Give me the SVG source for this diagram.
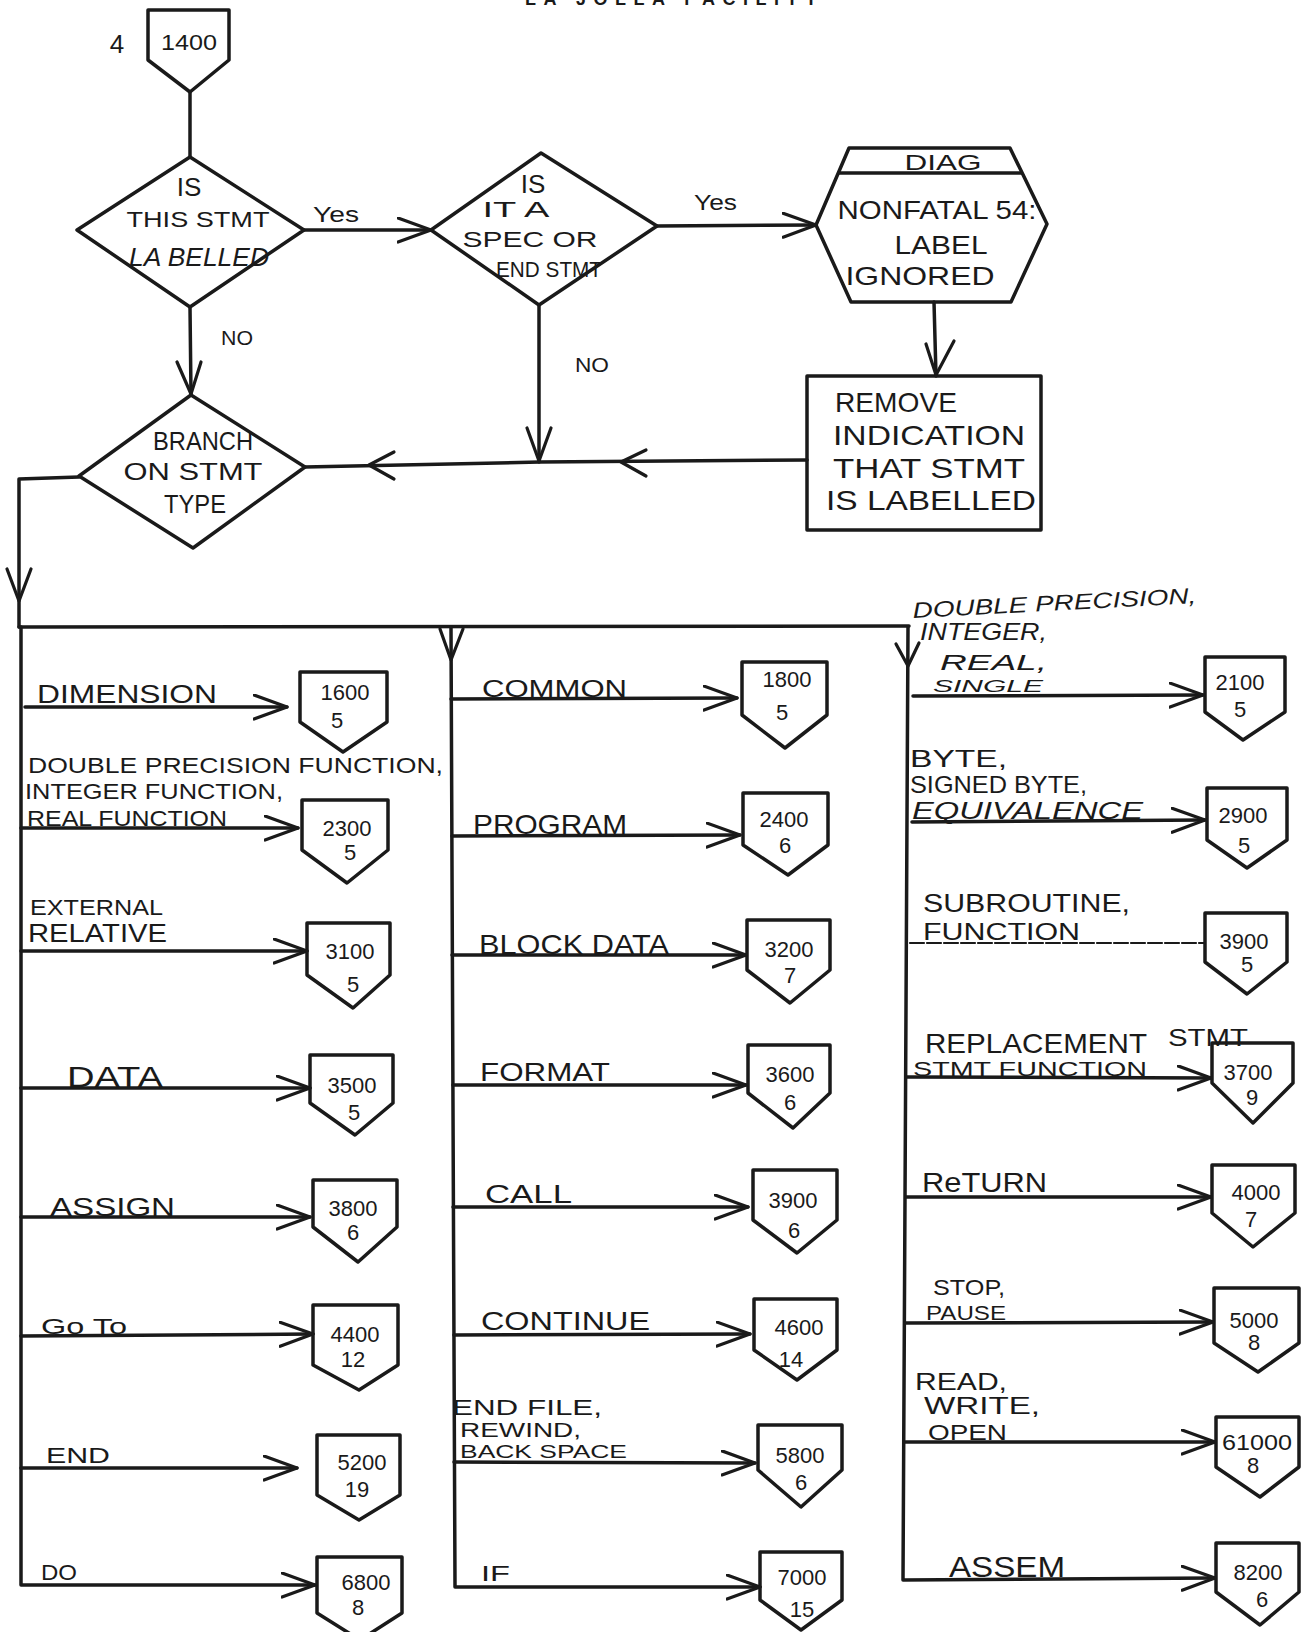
<svg xmlns="http://www.w3.org/2000/svg" width="1301" height="1632" viewBox="0 0 1301 1632">
<style>
  .bg{fill:#ffffff}
  .shape{fill:none;stroke:#1a1a1a;stroke-width:3.5;stroke-linejoin:round}
  .ln{fill:none;stroke:#1a1a1a;stroke-width:3.5;stroke-linecap:round;stroke-linejoin:round}
  .thin{fill:none;stroke:#1a1a1a;stroke-width:2.2;stroke-linecap:round}
  .ah{fill:none;stroke:#1a1a1a;stroke-width:3.2;stroke-linecap:round;stroke-linejoin:round}
  text{font-family:"Liberation Sans","DejaVu Sans",sans-serif;fill:#1a1a1a}
  .num{font-size:22px;text-anchor:middle}
  .cnt{font-size:22px;text-anchor:middle}
  .mid{text-anchor:middle}
  .it{font-style:italic}
</style>
<defs>
  <marker id="arr" markerUnits="userSpaceOnUse" markerWidth="40" markerHeight="30" refX="34" refY="13" orient="auto">
    <path d="M1,1 L34,13 L1,25" fill="none" stroke="#1a1a1a" stroke-width="3.2" stroke-linecap="round" stroke-linejoin="round"/>
  </marker>
</defs>
<rect class="bg" x="0" y="0" width="1301" height="1632"/>

<text x="525" y="5" font-size="18" font-weight="bold" textLength="292">LA JOLLA FACILITY</text>

<g id="connectors">
  <path class="ln" d="M190,92 L190,157"/>
  <path class="ln" d="M304,230 L431,230" marker-end="url(#arr)"/>
  <path class="ln" d="M657,226 L816,225" marker-end="url(#arr)"/>
  <path class="ln" d="M934,302 L936,376"/>
  <path class="ah" d="M926,344 L936,375 L954,341"/>
  <path class="ln" d="M190,307 L191,395"/>
  <path class="ah" d="M177,362 L191,394 L201,362"/>
  <path class="ln" d="M539,305 L539,462"/>
  <path class="ah" d="M527,428 L539,461 L551,428"/>
  <path class="ln" d="M807,460 L540,462 L305,467"/>
  <path class="ah" d="M646,450 L621,462 L646,476"/>
  <path class="ah" d="M394,452 L369,465 L394,479"/>
  <path class="ln" d="M79,477 L19,479 L19,627"/>
  <path class="ah" d="M7,569 L19,601 L31,569"/>
  <path class="ln" d="M19,627 L909,626"/>
  <path class="ln" d="M21,627 L21,1585 L315,1585" marker-end="url(#arr)"/>
  <path class="ln" d="M451,627 L455,1587 L760,1587" marker-end="url(#arr)"/>
  <path class="ln" d="M908,627 L903,1580 L1215,1578" marker-end="url(#arr)"/>
  <path class="ah" d="M440,629 L451,660 L463,629"/>
  <path class="ah" d="M896,644 L908,666 L919,643"/>
  <path class="ln" d="M25,707 L287,707" marker-end="url(#arr)"/>
  <path class="ln" d="M21,828 L298,828" marker-end="url(#arr)"/>
  <path class="ln" d="M21,951 L307,951" marker-end="url(#arr)"/>
  <path class="ln" d="M21,1088 L310,1088" marker-end="url(#arr)"/>
  <path class="ln" d="M21,1217 L310,1217" marker-end="url(#arr)"/>
  <path class="ln" d="M21,1336 L313,1334" marker-end="url(#arr)"/>
  <path class="ln" d="M21,1468 L297,1468" marker-end="url(#arr)"/>
  <path class="ln" d="M451,699 L737,698" marker-end="url(#arr)"/>
  <path class="ln" d="M452,836 L740,835" marker-end="url(#arr)"/>
  <path class="ln" d="M452,955 L746,955" marker-end="url(#arr)"/>
  <path class="ln" d="M453,1085 L746,1085" marker-end="url(#arr)"/>
  <path class="ln" d="M453,1207 L748,1207" marker-end="url(#arr)"/>
  <path class="ln" d="M454,1335 L750,1334" marker-end="url(#arr)"/>
  <path class="ln" d="M454,1462 L755,1463" marker-end="url(#arr)"/>
  <path class="ln" d="M913,696 L1203,695" marker-end="url(#arr)"/>
  <path class="ln" d="M912,822 L1205,820" marker-end="url(#arr)"/>
  <path class="thin" d="M910,943 L1205,943" stroke-dasharray="14 3"/>
  <path class="ln" d="M907,1077 L1211,1078" marker-end="url(#arr)"/>
  <path class="ln" d="M906,1197 L1211,1197" marker-end="url(#arr)"/>
  <path class="ln" d="M905,1323 L1213,1322" marker-end="url(#arr)"/>
  <path class="ln" d="M904,1442 L1215,1442" marker-end="url(#arr)"/>
</g>

<g id="labels">
  <text x="313" y="222" font-size="22" textLength="46" lengthAdjust="spacingAndGlyphs">Yes</text>
  <text x="694" y="210" font-size="22" textLength="43" lengthAdjust="spacingAndGlyphs">Yes</text>
  <text x="221" y="345" font-size="20" textLength="32" lengthAdjust="spacingAndGlyphs">NO</text>
  <text x="575" y="372" font-size="20" textLength="34" lengthAdjust="spacingAndGlyphs">NO</text>

  <text x="37" y="703" font-size="26" textLength="180" lengthAdjust="spacingAndGlyphs">DIMENSION</text>
  <text x="28" y="773" font-size="22" textLength="415" lengthAdjust="spacingAndGlyphs">DOUBLE PRECISION FUNCTION,</text>
  <text x="25" y="799" font-size="22" textLength="258" lengthAdjust="spacingAndGlyphs">INTEGER FUNCTION,</text>
  <text x="27" y="826" font-size="22" textLength="200" lengthAdjust="spacingAndGlyphs">REAL FUNCTION</text>
  <text x="30" y="915" font-size="22" textLength="133" lengthAdjust="spacingAndGlyphs">EXTERNAL</text>
  <text x="28" y="942" font-size="26" textLength="139" lengthAdjust="spacingAndGlyphs">RELATIVE</text>
  <text x="67" y="1087" font-size="30" textLength="96" lengthAdjust="spacingAndGlyphs">DATA</text>
  <text x="50" y="1216" font-size="26" textLength="125" lengthAdjust="spacingAndGlyphs">ASSIGN</text>
  <text x="41" y="1334" font-size="22" textLength="86" lengthAdjust="spacingAndGlyphs">Go To</text>
  <text x="46" y="1463" font-size="22" textLength="64" lengthAdjust="spacingAndGlyphs">END</text>
  <text x="41" y="1580" font-size="22" textLength="36" lengthAdjust="spacingAndGlyphs">DO</text>

  <text x="482" y="697" font-size="24" textLength="145" lengthAdjust="spacingAndGlyphs">COMMON</text>
  <text x="473" y="834" font-size="28" textLength="154" lengthAdjust="spacingAndGlyphs">PROGRAM</text>
  <text x="479" y="954" font-size="28" textLength="190" lengthAdjust="spacingAndGlyphs">BLOCK DATA</text>
  <text x="480" y="1081" font-size="26" textLength="130" lengthAdjust="spacingAndGlyphs">FORMAT</text>
  <text x="485" y="1203" font-size="26" textLength="87" lengthAdjust="spacingAndGlyphs">CALL</text>
  <text x="481" y="1330" font-size="26" textLength="169" lengthAdjust="spacingAndGlyphs">CONTINUE</text>
  <text x="452" y="1415" font-size="22" textLength="150" lengthAdjust="spacingAndGlyphs">END FILE,</text>
  <text x="460" y="1437" font-size="21" textLength="121" lengthAdjust="spacingAndGlyphs">REWIND,</text>
  <text x="460" y="1458" font-size="19" textLength="167" lengthAdjust="spacingAndGlyphs">BACK SPACE</text>
  <text x="481" y="1581" font-size="22" textLength="29" lengthAdjust="spacingAndGlyphs">IF</text>

  <text x="913" y="618" font-size="22" class="it" textLength="284" lengthAdjust="spacingAndGlyphs" transform="rotate(-3 913 618)">DOUBLE PRECISION,</text>
  <text x="920" y="640" font-size="24" class="it" textLength="127" lengthAdjust="spacingAndGlyphs">INTEGER,</text>
  <text x="940" y="670" font-size="22" class="it" textLength="107" lengthAdjust="spacingAndGlyphs">REAL,</text>
  <text x="933" y="692" font-size="17" class="it" textLength="110" lengthAdjust="spacingAndGlyphs">SINGLE</text>
  <text x="910" y="767" font-size="24" textLength="97" lengthAdjust="spacingAndGlyphs">BYTE,</text>
  <text x="910" y="793" font-size="24" textLength="177" lengthAdjust="spacingAndGlyphs">SIGNED BYTE,</text>
  <text x="912" y="819" font-size="24" class="it" textLength="231" lengthAdjust="spacingAndGlyphs">EQUIVALENCE</text>
  <text x="923" y="912" font-size="26" textLength="207" lengthAdjust="spacingAndGlyphs">SUBROUTINE,</text>
  <text x="923" y="940" font-size="24" textLength="157" lengthAdjust="spacingAndGlyphs">FUNCTION</text>
  <text x="925" y="1053" font-size="28" textLength="222" lengthAdjust="spacingAndGlyphs">REPLACEMENT</text>
  <text x="1168" y="1046" font-size="24" textLength="80" lengthAdjust="spacingAndGlyphs">STMT</text>
  <text x="913" y="1076" font-size="21" textLength="234" lengthAdjust="spacingAndGlyphs">STMT  FUNCTION</text>
  <text x="922" y="1192" font-size="28" textLength="125" lengthAdjust="spacingAndGlyphs">ReTURN</text>
  <text x="933" y="1295" font-size="22" textLength="72" lengthAdjust="spacingAndGlyphs">STOP,</text>
  <text x="926" y="1320" font-size="21" textLength="80" lengthAdjust="spacingAndGlyphs">PAUSE</text>
  <text x="915" y="1390" font-size="24" textLength="92" lengthAdjust="spacingAndGlyphs">READ,</text>
  <text x="924" y="1414" font-size="24" textLength="116" lengthAdjust="spacingAndGlyphs">WRITE,</text>
  <text x="928" y="1440" font-size="22" textLength="79" lengthAdjust="spacingAndGlyphs">OPEN</text>
  <text x="949" y="1577" font-size="30" textLength="116" lengthAdjust="spacingAndGlyphs">ASSEM</text>
</g>

<g id="nodes">
  <g id="n1400">
    <polygon class="shape" points="148,10 229,10 229,60 190,92 148,60"/>
    <text x="189" y="50" font-size="22" class="mid" textLength="56" lengthAdjust="spacingAndGlyphs">1400</text>
    <text x="117" y="53" font-size="26" class="mid">4</text>
  </g>
  <g id="d_labelled">
    <polygon class="shape" points="190,157 304,230 190,307 77,230"/>
    <text x="189" y="196" font-size="26" class="mid">IS</text>
    <text x="198" y="227" font-size="22" class="mid" textLength="143" lengthAdjust="spacingAndGlyphs">THIS STMT</text>
    <text x="199" y="266" font-size="26" class="mid it" textLength="140" lengthAdjust="spacingAndGlyphs">LA BELLED</text>
  </g>
  <g id="d_spec">
    <polygon class="shape" points="541,153 657,226 539,305 431,230"/>
    <text x="533" y="193" font-size="26" class="mid">IS</text>
    <text x="516" y="217" font-size="22" class="mid" textLength="67" lengthAdjust="spacingAndGlyphs">IT  A</text>
    <text x="530" y="247" font-size="22" class="mid" textLength="135" lengthAdjust="spacingAndGlyphs">SPEC OR</text>
    <text x="549" y="277" font-size="22" class="mid" textLength="106" lengthAdjust="spacingAndGlyphs">END STMT</text>
  </g>
  <g id="diag">
    <polygon class="shape" points="849,148 1010,148 1047,224 1011,302 851,302 816,225"/>
    <path class="shape" d="M838,173 L1022,173"/>
    <text x="943" y="170" font-size="22" class="mid" textLength="77" lengthAdjust="spacingAndGlyphs">DIAG</text>
    <text x="937" y="219" font-size="26" class="mid" textLength="199" lengthAdjust="spacingAndGlyphs">NONFATAL 54:</text>
    <text x="941" y="254" font-size="26" class="mid" textLength="93" lengthAdjust="spacingAndGlyphs">LABEL</text>
    <text x="920" y="285" font-size="26" class="mid" textLength="149" lengthAdjust="spacingAndGlyphs">IGNORED</text>
  </g>
  <g id="remove">
    <rect class="shape" x="807" y="376" width="234" height="154"/>
    <text x="835" y="412" font-size="28" textLength="122" lengthAdjust="spacingAndGlyphs">REMOVE</text>
    <text x="833" y="445" font-size="28" textLength="192" lengthAdjust="spacingAndGlyphs">INDICATION</text>
    <text x="833" y="478" font-size="28" textLength="192" lengthAdjust="spacingAndGlyphs">THAT STMT</text>
    <text x="826" y="510" font-size="28" textLength="210" lengthAdjust="spacingAndGlyphs">IS LABELLED</text>
  </g>
  <g id="d_branch">
    <polygon class="shape" points="191,395 305,467 193,548 79,476"/>
    <text x="203" y="450" font-size="26" class="mid" textLength="100" lengthAdjust="spacingAndGlyphs">BRANCH</text>
    <text x="193" y="480" font-size="24" class="mid" textLength="139" lengthAdjust="spacingAndGlyphs">ON STMT</text>
    <text x="195" y="513" font-size="26" class="mid" textLength="62" lengthAdjust="spacingAndGlyphs">TYPE</text>
  </g>

  <g id="n1600"><polygon class="shape" points="300,672 387,672 387,722 343,752 300,722"/><text class="num" x="345" y="700">1600</text><text class="cnt" x="337" y="728">5</text></g>
  <g id="n2300"><polygon class="shape" points="302,800 388,800 388,850 347,883 302,850"/><text class="num" x="347" y="836">2300</text><text class="cnt" x="350" y="860">5</text></g>
  <g id="n3100"><polygon class="shape" points="307,923 390,923 390,975 353,1008 307,975"/><text class="num" x="350" y="959">3100</text><text class="cnt" x="353" y="992">5</text></g>
  <g id="n3500"><polygon class="shape" points="310,1055 393,1055 393,1103 355,1135 310,1103"/><text class="num" x="352" y="1093">3500</text><text class="cnt" x="354" y="1120">5</text></g>
  <g id="n3800"><polygon class="shape" points="313,1180 397,1180 397,1227 358,1262 313,1227"/><text class="num" x="353" y="1216">3800</text><text class="cnt" x="353" y="1240">6</text></g>
  <g id="n4400"><polygon class="shape" points="313,1305 398,1305 398,1365 359,1390 313,1365"/><text class="num" x="355" y="1342">4400</text><text class="cnt" x="353" y="1367">12</text></g>
  <g id="n5200"><polygon class="shape" points="317,1435 400,1435 400,1495 359,1520 317,1495"/><text class="num" x="362" y="1470">5200</text><text class="cnt" x="357" y="1497">19</text></g>
  <g id="n6800"><polygon class="shape" points="317,1557 402,1557 402,1613 360,1640 317,1613"/><text class="num" x="366" y="1590">6800</text><text class="cnt" x="358" y="1615">8</text></g>

  <g id="n1800"><polygon class="shape" points="742,662 827,662 827,715 785,748 742,715"/><text class="num" x="787" y="687">1800</text><text class="cnt" x="782" y="720">5</text></g>
  <g id="n2400"><polygon class="shape" points="743,793 828,793 828,845 788,875 743,845"/><text class="num" x="784" y="827">2400</text><text class="cnt" x="785" y="853">6</text></g>
  <g id="n3200"><polygon class="shape" points="747,920 830,920 830,970 790,1003 747,970"/><text class="num" x="789" y="957">3200</text><text class="cnt" x="790" y="983">7</text></g>
  <g id="n3600"><polygon class="shape" points="748,1045 830,1045 830,1093 793,1128 748,1093"/><text class="num" x="790" y="1082">3600</text><text class="cnt" x="790" y="1110">6</text></g>
  <g id="n3900m"><polygon class="shape" points="753,1170 837,1170 837,1220 797,1253 753,1220"/><text class="num" x="793" y="1208">3900</text><text class="cnt" x="794" y="1238">6</text></g>
  <g id="n4600"><polygon class="shape" points="754,1299 837,1299 837,1350 797,1380 754,1350"/><text class="num" x="799" y="1335">4600</text><text class="cnt" x="791" y="1367">14</text></g>
  <g id="n5800"><polygon class="shape" points="758,1425 842,1425 842,1470 801,1507 758,1470"/><text class="num" x="800" y="1463">5800</text><text class="cnt" x="801" y="1490">6</text></g>
  <g id="n7000"><polygon class="shape" points="760,1552 842,1552 842,1600 801,1630 760,1600"/><text class="num" x="802" y="1585">7000</text><text class="cnt" x="802" y="1617">15</text></g>

  <g id="n2100"><polygon class="shape" points="1205,657 1285,657 1285,712 1243,740 1205,712"/><text class="num" x="1240" y="690">2100</text><text class="cnt" x="1240" y="717">5</text></g>
  <g id="n2900"><polygon class="shape" points="1207,788 1287,788 1287,840 1247,868 1207,840"/><text class="num" x="1243" y="823">2900</text><text class="cnt" x="1244" y="853">5</text></g>
  <g id="n3900r"><polygon class="shape" points="1205,913 1287,913 1287,962 1247,994 1205,962"/><text class="num" x="1244" y="949">3900</text><text class="cnt" x="1247" y="972">5</text></g>
  <g id="n3700"><polygon class="shape" points="1212,1043 1293,1043 1293,1083 1253,1123 1212,1083"/><text class="num" x="1248" y="1080">3700</text><text class="cnt" x="1252" y="1105">9</text></g>
  <g id="n4000"><polygon class="shape" points="1212,1165 1295,1165 1295,1213 1253,1247 1212,1213"/><text class="num" x="1256" y="1200">4000</text><text class="cnt" x="1251" y="1227">7</text></g>
  <g id="n5000"><polygon class="shape" points="1214,1288 1299,1288 1299,1343 1258,1372 1214,1343"/><text class="num" x="1254" y="1328">5000</text><text class="cnt" x="1254" y="1350">8</text></g>
  <g id="n61000"><polygon class="shape" points="1216,1417 1299,1417 1299,1467 1260,1497 1216,1467"/><text class="num" x="1257" y="1450" textLength="70" lengthAdjust="spacingAndGlyphs">61000</text><text class="cnt" x="1253" y="1473">8</text></g>
  <g id="n8200"><polygon class="shape" points="1216,1543 1299,1543 1299,1592 1260,1625 1216,1592"/><text class="num" x="1258" y="1580">8200</text><text class="cnt" x="1262" y="1607">6</text></g>
</g>
</svg>
